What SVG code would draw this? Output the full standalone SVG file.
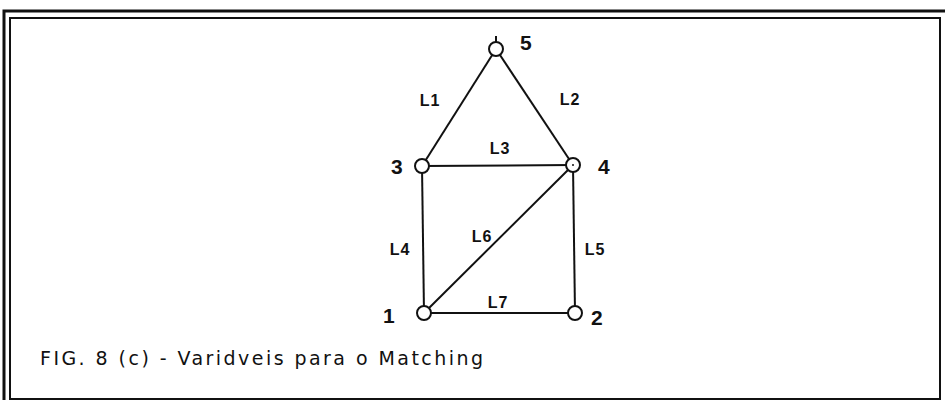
<svg xmlns="http://www.w3.org/2000/svg" width="945" height="404" viewBox="0 0 945 404">
<style>
.frame{fill:none;stroke:#111;}
.edge{stroke:#111;stroke-width:2;fill:none;}
.node{fill:#fff;stroke:#111;stroke-width:2;}
.num{font-family:"Liberation Sans",Arial,sans-serif;font-weight:bold;font-size:21px;fill:#111;}
.lbl{font-family:"Liberation Sans",Arial,sans-serif;font-weight:bold;font-size:16px;fill:#111;text-anchor:middle;letter-spacing:1px;}
.cap{font-family:"DejaVu Sans",sans-serif;font-size:19px;fill:#111;}
</style>
<rect width="945" height="404" fill="#fff"/>
<g id="frame">
<path class="frame" stroke-width="3" d="M4,400 V11 H945"/>
<rect class="frame" stroke-width="2" x="10" y="18" width="930" height="381"/>
</g>
<g id="connectors">
<line class="edge" x1="496" y1="49" x2="422" y2="166"/>
<line class="edge" x1="496" y1="49" x2="573" y2="165"/>
<line class="edge" x1="422" y1="166" x2="573" y2="165"/>
<line class="edge" x1="422" y1="166" x2="424" y2="313"/>
<line class="edge" x1="573" y1="165" x2="575" y2="313"/>
<line class="edge" x1="573" y1="165" x2="424" y2="313"/>
<line class="edge" x1="424" y1="313" x2="575" y2="313"/>
<line class="edge" x1="496" y1="36" x2="496" y2="42"/>
</g>
<g id="edge-labels">
<text class="lbl" x="430" y="106">L1</text>
<text class="lbl" x="570" y="105">L2</text>
<text class="lbl" x="500" y="154">L3</text>
<text class="lbl" x="400" y="255">L4</text>
<text class="lbl" x="595" y="255">L5</text>
<text class="lbl" x="482" y="242">L6</text>
<text class="lbl" x="498" y="308">L7</text>
</g>
<g id="node5"><circle class="node" cx="496" cy="49" r="7"/><text class="num" x="520" y="50">5</text></g>
<g id="node3"><circle class="node" cx="422" cy="166" r="7"/><text class="num" x="391" y="174">3</text></g>
<g id="node4"><circle class="node" cx="573" cy="165" r="7"/><circle cx="573" cy="165" r="1" fill="#111"/><text class="num" x="598" y="174">4</text></g>
<g id="node1"><circle class="node" cx="424" cy="313" r="7"/><text class="num" x="383" y="323">1</text></g>
<g id="node2"><circle class="node" cx="575" cy="313" r="7"/><text class="num" x="591" y="325">2</text></g>
<text class="cap" x="40" y="365" textLength="443" lengthAdjust="spacing">FIG. 8 (c) - Varidveis para o Matching</text>
</svg>
